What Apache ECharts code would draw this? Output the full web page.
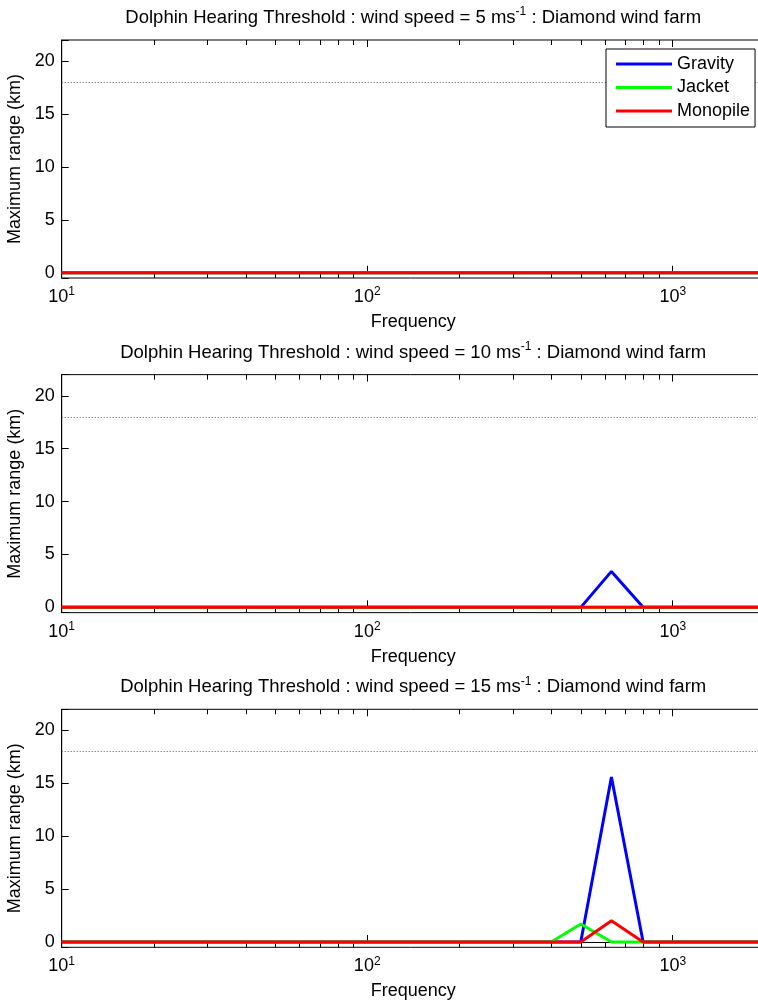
<!DOCTYPE html>
<html><head><meta charset="utf-8">
<script src="https://cdn.jsdelivr.net/npm/echarts@6/dist/echarts.min.js"></script>
<style>html,body{margin:0;padding:0;background:#fff}#c{width:758px;height:1004px}</style>
</head><body><div id="c"></div>
<script>
// ---- data ----
const freq = [10,12.5,16,20,25,31.5,40,50,63,80,100,125,160,200,250,315,400,500,630,800,1000,1250,1600,2000];
const windSpeeds = [5, 10, 15];
const seriesNames = ['Gravity', 'Jacket', 'Monopile'];
const minorTickFreqs = [20,30,40,50,60,70,80,90,200,300,400,500,600,700,800,900,2000];
const threshold = 18;

const gravity5  = [0,0,0,0,0,0,0,0,0,0,0,0,0,0,0,0,0,0,0,0,0,0,0,0];
const jacket5   = [0,0,0,0,0,0,0,0,0,0,0,0,0,0,0,0,0,0,0,0,0,0,0,0];
const monopile5 = [0,0,0,0,0,0,0,0,0,0,0,0,0,0,0,0,0,0,0,0,0,0,0,0];

const gravity10  = [0,0,0,0,0,0,0,0,0,0,0,0,0,0,0,0,0,0,3.4,0,0,0,0,0];
const jacket10   = [0,0,0,0,0,0,0,0,0,0,0,0,0,0,0,0,0,0,0,0,0,0,0,0];
const monopile10 = [0,0,0,0,0,0,0,0,0,0,0,0,0,0,0,0,0,0,0,0,0,0,0,0];

const gravity15  = [0,0,0,0,0,0,0,0,0,0,0,0,0,0,0,0,0,0,15.6,0,0,0,0,0];
const jacket15   = [0,0,0,0,0,0,0,0,0,0,0,0,0,0,0,0,0,1.7,0,0,0,0,0,0];
const monopile15 = [0,0,0,0,0,0,0,0,0,0,0,0,0,0,0,0,0,0,2.0,0,0,0,0,0];

const panels = [
  [gravity5, jacket5, monopile5],
  [gravity10, jacket10, monopile10],
  [gravity15, jacket15, monopile15]
];

// ---- styling / layout ----
const FONT = '"Liberation Sans", Arial, sans-serif';
const colors = ['#0000ff', '#00ff00', '#ff0000'];
const gridLeft = 61.7, gridWidth = 703, gridHeight = 238;
const gridTops = [40, 374.65, 709.3];
const yMin = -0.5, yMax = 22, xMin = 10, xMax = 2000;
const titleCenterX = gridLeft + gridWidth / 2;

const grids = [], xAxes = [], yAxes = [], series = [], graphics = [];

gridTops.forEach((top, i) => {
  grids.push({left: gridLeft, top: top, width: gridWidth, height: gridHeight,
    containLabel: false, outerBoundsMode: 'none',
    show: true, borderColor: '#000', borderWidth: 1, backgroundColor: 'transparent'});

  // bottom log axis
  xAxes.push({
    type: 'log', logBase: 10, gridIndex: i, min: xMin, max: xMax, position: 'bottom',
    axisLine: {show: true, lineStyle: {color: '#000', width: 1}},
    axisTick: {show: true, inside: true, length: 7, lineStyle: {color: '#000'}},
    splitLine: {show: false},
    axisLabel: {
      margin: 8, color: '#000',
      formatter: v => {
        const e = Math.log10(v);
        const r = Math.round(e);
        if (Math.abs(e - r) > 1e-6) return '';
        return '{b|10}{s|' + r + '}';
      },
      rich: {
        b: {fontSize: 18, fontFamily: FONT, color: '#000', lineHeight: 22},
        s: {fontSize: 12, fontFamily: FONT, color: '#000', lineHeight: 12, verticalAlign: 'top'}
      }
    },
    name: 'Frequency', nameLocation: 'middle', nameGap: 35,
    nameTextStyle: {fontSize: 18, fontFamily: FONT, color: '#000'}
  });
  // top log axis (ticks only)
  xAxes.push({
    type: 'log', logBase: 10, gridIndex: i, min: xMin, max: xMax, position: 'top',
    axisLine: {show: false},
    axisTick: {show: true, inside: true, length: 7, lineStyle: {color: '#000'}},
    splitLine: {show: false}, axisLabel: {show: false}
  });

  yAxes.push({
    type: 'value', gridIndex: i, min: yMin, max: yMax, splitNumber: 5,
    axisLine: {show: true, lineStyle: {color: '#000', width: 1}},
    axisTick: {show: true, inside: true, length: 7, lineStyle: {color: '#000'}},
    splitLine: {show: false},
    axisLabel: {margin: 7, color: '#000', fontSize: 18, fontFamily: FONT,
      formatter: v => (Math.abs(v % 5) < 1e-9 ? String(v) : '')},
    name: 'Maximum range (km)', nameLocation: 'middle', nameGap: 31, nameRotate: 90,
    nameTextStyle: {fontSize: 18, fontFamily: FONT, color: '#000'}
  });

  panels[i].forEach((vals, k) => {
    const s = {
      type: 'line', name: seriesNames[k], xAxisIndex: 2 * i, yAxisIndex: i,
      data: freq.map((f, j) => [f, vals[j]]),
      showSymbol: false, symbol: 'none', animation: false,
      lineStyle: {color: colors[k], width: 3}, itemStyle: {color: colors[k]},
      z: 3 + k
    };
    if (k === 0) {
      s.markLine = {
        silent: true, symbol: 'none', animation: false, label: {show: false},
        lineStyle: {color: '#555', type: [1, 2], width: 1},
        emphasis: {disabled: true},
        data: [{yAxis: threshold}]
      };
    }
    series.push(s);
  });

  // minor ticks on the log axis, top and bottom
  series.push({
    type: 'custom', xAxisIndex: 2 * i, yAxisIndex: i, silent: true, animation: false, z: 2,
    data: minorTickFreqs.map(f => [f, 0]),
    encode: {x: 0, y: 1},
    renderItem: (params, api) => {
      const f = api.value(0);
      const b = api.coord([f, yMin]);
      const t = api.coord([f, yMax]);
      const x = Math.round(b[0]) + 0.5;
      return {type: 'group', children: [
        {type: 'line', shape: {x1: x, y1: b[1], x2: x, y2: b[1] - 5}, style: {stroke: '#000', lineWidth: 1}},
        {type: 'line', shape: {x1: x, y1: t[1], x2: x, y2: t[1] + 5}, style: {stroke: '#000', lineWidth: 1}}
      ]};
    }
  });

  graphics.push({
    type: 'text', x: titleCenterX, y: top - 22, silent: true,
    style: {
      text: '{m|Dolphin Hearing Threshold : wind speed = ' + windSpeeds[i] + ' ms}{s|-1}{m| : Diamond wind farm}',
      align: 'center', verticalAlign: 'middle',
      rich: {
        m: {fontSize: 18.5, fontFamily: FONT, fill: '#000', lineHeight: 24},
        s: {fontSize: 12, fontFamily: FONT, fill: '#000', lineHeight: 12, verticalAlign: 'top'}
      }
    }
  });
});

const chart = echarts.init(document.getElementById('c'), null, {renderer: 'canvas'});
chart.setOption({
  backgroundColor: '#fff',
  animation: false,
  grid: grids,
  xAxis: xAxes,
  yAxis: yAxes,
  series: series,
  graphic: graphics,
  legend: {
    data: seriesNames, left: 606, top: 49, orient: 'vertical',
    icon: 'rect', itemWidth: 56, itemHeight: 3, itemGap: 5.5,
    padding: [6, 5, 7, 10], borderColor: '#000', borderWidth: 1, backgroundColor: '#fff',
    textStyle: {fontSize: 18, fontFamily: FONT, color: '#000'},
    selectedMode: false, z: 10
  }
});
</script>
</body></html>
